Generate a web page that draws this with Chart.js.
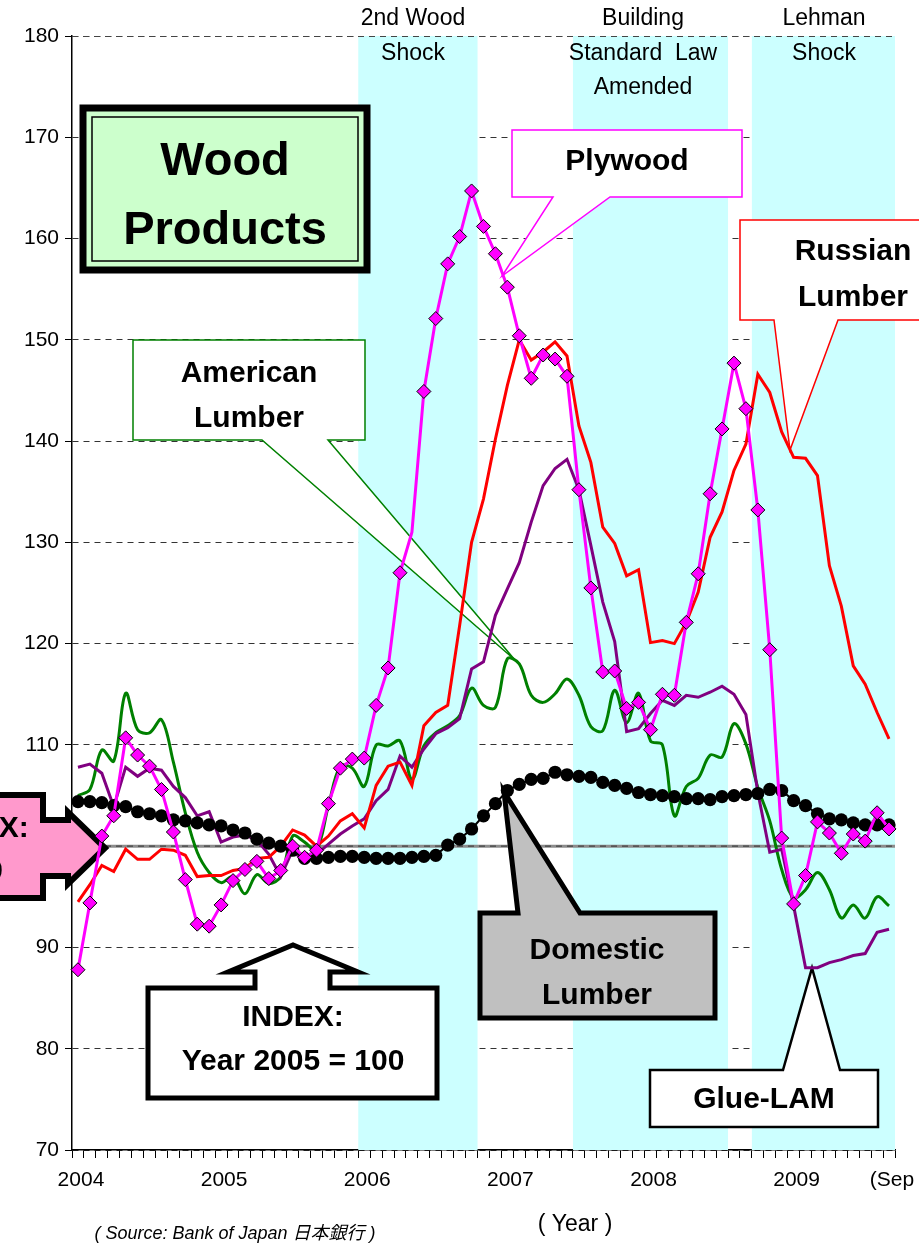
<!DOCTYPE html>
<html><head><meta charset="utf-8">
<script src="https://cdn.jsdelivr.net/npm/chart.js@4.4.1/dist/chart.umd.min.js"></script>
<style>html,body{margin:0;padding:0;background:#fff;overflow:hidden}canvas{display:block}</style>
</head><body>
<canvas id="c" width="919" height="1243"></canvas>
<script>
// ---- categories: monthly, Jan 2004 .. Sep 2009 ----
const months = [];
for (let yy = 2004; yy <= 2009; yy++) for (let mm = 1; mm <= 12; mm++) {
  if (yy === 2009 && mm > 9) break;
  months.push(yy + '-' + String(mm).padStart(2, '0'));
}
// ---- tick labels ----
const tickMonths = ['2004-01','2005-01','2006-01','2007-01','2008-01','2009-01','2009-09'];
const tickLabels = ['2004','2005','2006','2007','2008','2009','(Sep'];
const yTicks = [70,80,90,100,110,120,130,140,150,160,170,180];

// ---- series (index, 2005 = 100) ----
const plywood = [87.8, 94.4, 101.0, 103.0, 110.7, 109.0, 107.9, 105.6, 101.4, 96.7, 92.3, 92.1,
 94.2, 96.6, 97.7, 98.5, 96.8, 97.6, 100.0, 98.9, 99.6, 104.2, 107.7, 108.6,
 108.7, 113.9, 117.6, 127.0, 131.0, 144.9, 152.1, 157.5, 160.2, 164.7, 161.2, 158.5,
 155.2, 150.4, 146.2, 148.5, 148.1, 146.4, 135.2, 125.5, 117.2, 117.3, 113.6, 114.2,
 111.5, 115.0, 114.9, 122.1, 126.9, 134.8, 141.2, 147.7, 143.2, 133.2, 119.4, 100.8,
 94.3, 97.1, 102.4, 101.3, 99.3, 101.2, 100.5, 103.3, 101.7];
const plywoodNoMarker = ['2006-05'];
const domestic = [104.4, 104.4, 104.3, 104.0, 103.9, 103.4, 103.2, 103.0, 102.6, 102.5, 102.3, 102.1,
 102.0, 101.6, 101.3, 100.7, 100.3, 100.0, 99.6, 98.8, 98.8, 98.9, 99.0, 99.0,
 98.9, 98.8, 98.8, 98.8, 98.9, 99.0, 99.1, 100.1, 100.7, 101.7, 103.0, 104.2,
 105.5, 106.1, 106.6, 106.7, 107.3, 107.05, 106.9, 106.8, 106.3, 106.0, 105.7, 105.3,
 105.1, 105.0, 104.9, 104.7, 104.7, 104.6, 104.9, 105.0, 105.1, 105.2, 105.6, 105.5,
 104.5, 104.0, 103.2, 102.7, 102.6, 102.3, 102.1, 102.1, 102.1];
const russian = [94.5, 96.2, 98.1, 97.5, 99.7, 98.7, 98.7, 99.7, 99.6, 99.1, 97.0, 97.1,
 97.1, 97.6, 97.8, 98.8, 98.9, 100.0, 101.6, 101.1, 100.0, 101.0, 102.5, 103.2,
 101.8, 106.0, 107.9, 108.3, 106.0, 111.9, 113.2, 113.9, 121.8, 130.0, 134.3, 140.2,
 145.5, 150.0, 148.0, 148.8, 149.8, 148.4, 141.5, 137.9, 131.5, 129.9, 126.7, 127.3,
 120.1, 120.3, 120.0, 122.1, 125.1, 130.5, 133.0, 137.1, 139.7, 146.6, 144.8, 140.9,
 138.4, 138.3, 136.6, 127.7, 123.7, 117.8, 116.0, 113.2, 110.6];
const glueLam = [107.8, 108.1, 107.2, 103.9, 107.8, 106.9, 107.7, 107.5, 105.9, 104.8, 103.0, 103.4,
 100.4, 100.9, 101.1, 100.6, 99.2, 97.0, 99.6, 98.4, 99.2, 100.2, 101.2, 102.0,
 102.7, 104.5, 105.6, 108.9, 107.8, 109.6, 111.1, 111.7, 112.6, 117.5, 118.2, 122.8,
 125.4, 128.0, 132.0, 135.6, 137.3, 138.2, 135.2, 129.7, 124.1, 120.2, 111.3, 111.6,
 113.1, 114.4, 113.9, 114.9, 114.7, 115.2, 115.8, 115.0, 113.0, 105.3, 99.4, 99.7,
 94.1, 88.0, 88.0, 88.5, 88.8, 89.2, 89.4, 91.5, 91.8];
const american = [105.0, 105.6, 109.5, 108.4, 115.1, 111.5, 111.2, 112.5, 108.3, 103.3, 99.4, 97.4,
 96.4, 97.0, 95.3, 97.2, 96.3, 97.0, 101.0, 100.4, 99.6, 104.0, 107.9, 107.7,
 105.9, 110.0, 109.9, 110.4, 106.6, 109.9, 111.2, 111.9, 112.9, 115.6, 113.9, 113.7,
 118.5, 118.0, 114.9, 114.2, 115.05, 116.5, 114.9, 111.8, 111.4, 115.4, 112.2, 115.1,
 110.4, 110.0, 103.0, 105.9, 106.7, 109.0, 108.8, 112.1, 110.1, 105.8, 102.5, 97.7,
 94.9, 95.7, 97.4, 95.7, 92.9, 94.2, 92.9, 95.0, 94.1];

// ---- shaded event periods ----
const bandStart = ['2006-01','2007-07','2008-10'];
const bandEnd   = ['2006-10','2008-07','2009-09'];
const bandText  = [['2nd Wood','Shock'],['Building','Standard  Law','Amended'],['Lehman','Shock']];

const FONT = '"Liberation Sans", Arial, sans-serif';

function poly(ctx, pts, fill, stroke, lw) {
  ctx.beginPath();
  ctx.moveTo(pts[0][0], pts[0][1]);
  for (let i = 1; i < pts.length; i++) ctx.lineTo(pts[i][0], pts[i][1]);
  ctx.closePath();
  if (fill) { ctx.fillStyle = fill; ctx.fill(); }
  if (stroke) { ctx.lineJoin = 'miter'; ctx.strokeStyle = stroke; ctx.lineWidth = lw; ctx.stroke(); }
}
function txt(ctx, s, x, y, size, bold, italic, align) {
  ctx.font = (italic ? 'italic ' : '') + (bold ? 'bold ' : '') + size + 'px ' + FONT + ', "Noto Sans CJK JP"';
  ctx.fillStyle = '#000';
  ctx.textAlign = align || 'center';
  ctx.textBaseline = 'middle';
  ctx.fillText(s, x, y);
}

const decor = {
  id: 'decor',
  beforeDatasetsDraw(chart) {
    const {ctx, chartArea: a, scales: {x, y}} = chart;
    const step = x.getPixelForValue(1) - x.getPixelForValue(0);
    ctx.save();
    // bands
    ctx.fillStyle = '#ccffff';
    bandStart.forEach((s, k) => {
      const x0 = x.getPixelForValue(months.indexOf(s)) - step / 2;
      const x1 = x.getPixelForValue(months.indexOf(bandEnd[k])) + step / 2;
      ctx.fillRect(x0, a.top, x1 - x0, a.bottom - a.top);
    });
    // top line (180) dashed
    ctx.strokeStyle = '#444'; ctx.lineWidth = 1; ctx.setLineDash([6, 5]);
    ctx.beginPath(); ctx.moveTo(a.left, y.getPixelForValue(180) + 0.5); ctx.lineTo(a.right, y.getPixelForValue(180) + 0.5); ctx.stroke();
    // base line 100
    const yb = y.getPixelForValue(100);
    ctx.setLineDash([]); ctx.strokeStyle = '#8c8c8c'; ctx.lineWidth = 3;
    ctx.beginPath(); ctx.moveTo(a.left, yb); ctx.lineTo(a.right, yb); ctx.stroke();
    ctx.setLineDash([6, 5]); ctx.strokeStyle = '#444'; ctx.lineWidth = 1.2;
    ctx.beginPath(); ctx.moveTo(a.left, yb); ctx.lineTo(a.right, yb); ctx.stroke();
    ctx.setLineDash([]);

    // band titles
    const tx = [413, 643, 824];
    bandText.forEach((lines, k) => {
      lines.forEach((l, j) => txt(ctx, l, tx[k], 19 + j * 34.5, 23, false));
    });

    // Wood Products box
    ctx.fillStyle = '#ccffcc'; ctx.fillRect(83, 108, 284, 162);
    ctx.strokeStyle = '#000'; ctx.lineWidth = 7; ctx.strokeRect(83, 108, 284, 162);
    ctx.lineWidth = 1.5; ctx.strokeRect(92, 117, 266, 144);
    txt(ctx, 'Wood', 225, 162, 47, true);
    txt(ctx, 'Products', 225, 231, 47, true);

    // Plywood callout
    poly(ctx, [[512,130],[742,130],[742,197],[610,197],[502,276],[553,197],[512,197]], '#fff', '#ff00ff', 1.5);
    txt(ctx, 'Plywood', 627, 162, 30, true);
    // Russian Lumber callout
    poly(ctx, [[740,220],[975,220],[975,320],[838,320],[790,450],[774,320],[740,320]], '#fff', '#ff0000', 1.5);
    txt(ctx, 'Russian', 853, 252, 30, true);
    txt(ctx, 'Lumber', 853, 298, 30, true);
    // American Lumber callout
    poly(ctx, [[133,340],[365,340],[365,440],[328,440],[515,660],[262,440],[133,440]], '#fff', '#008000', 1.5);
    txt(ctx, 'American', 249, 374, 30, true);
    txt(ctx, 'Lumber', 249, 419, 30, true);
    // Domestic Lumber callout
    poly(ctx, [[480,913],[518,913],[504,792],[580,913],[715,913],[715,1018],[480,1018]], '#c0c0c0', '#000', 5);
    txt(ctx, 'Domestic', 597, 951, 30, true);
    txt(ctx, 'Lumber', 597, 996, 30, true);
    // INDEX callout with up arrow
    poly(ctx, [[148,988],[255,988],[255,972],[228,972],[293,945],[358,972],[330,972],[330,988],[437,988],[437,1098],[148,1098]], '#fff', '#000', 5);
    txt(ctx, 'INDEX:', 293, 1018, 30, true);
    txt(ctx, 'Year 2005 = 100', 293, 1062, 30, true);
    // Glue-LAM callout
    poly(ctx, [[650,1070],[783,1070],[812,968],[840,1070],[878,1070],[878,1127],[650,1127]], '#fff', '#000', 2.5);
    txt(ctx, 'Glue-LAM', 764, 1100, 30, true);
    // left pink arrow (cut off)
    poly(ctx, [[-20,795],[43,795],[43,820],[68,820],[68,812],[105,848],[68,884],[68,876],[43,876],[43,898],[-20,898]], '#ff99cc', '#000', 6);
    txt(ctx, 'INDEX:', -22, 829, 30, true);
    txt(ctx, '100', -22, 872, 30, true);

    // axis titles / source
    txt(ctx, '( Year )', 575, 1225, 23, false);
    txt(ctx, '( Source: Bank of Japan 日本銀行 )', 235, 1234, 18, false, true);
    ctx.restore();
  }
};

const xLabelFor = (i) => {
  const k = tickMonths.indexOf(months[i]);
  return k >= 0 ? tickLabels[k] : '';
};

new Chart(document.getElementById('c'), {
  type: 'line',
  data: {
    labels: months,
    datasets: [
      { label: 'Plywood', data: plywood, borderColor: '#ff00ff', borderWidth: 3,
        pointStyle: 'rectRot',
        pointRadius: months.map(m => plywoodNoMarker.includes(m) ? 0 : 7),
        pointBackgroundColor: '#ff00ff', pointBorderColor: '#000', pointBorderWidth: 1, tension: 0 },
      { label: 'Domestic Lumber', data: domestic, borderColor: '#000', borderWidth: 2,
        pointRadius: 6.6, pointBackgroundColor: '#000', pointBorderWidth: 0, tension: 0 },
      { label: 'Russian Lumber', data: russian, borderColor: '#ff0000', borderWidth: 3, pointRadius: 0, tension: 0 },
      { label: 'Glue-LAM', data: glueLam, borderColor: '#800080', borderWidth: 3, pointRadius: 0, tension: 0 },
      { label: 'American Lumber', data: american, borderColor: '#008000', borderWidth: 3, pointRadius: 0, tension: 0.35 }
    ]
  },
  options: {
    responsive: false, devicePixelRatio: 1, animation: false, events: [],
    layout: { padding: { top: 36, right: 24, left: 0, bottom: 0 } },
    plugins: { legend: { display: false }, tooltip: { enabled: false } },
    scales: {
      x: {
        offset: true,
        grid: { display: true, drawOnChartArea: false, offset: true, tickLength: 8, color: '#000', lineWidth: 1 },
        border: { color: '#000', width: 1.5 },
        ticks: { autoSkip: false, maxRotation: 0, minRotation: 0, color: '#000', padding: 10, labelOffset: 3,
                 font: { family: FONT, size: 21 }, callback: (v, i) => xLabelFor(i) },
        afterFit: (s) => { s.height = 93; s.paddingLeft = 0; s.paddingRight = 0; }
      },
      y: {
        min: 70, max: 180,
        afterBuildTicks: (s) => { s.ticks = yTicks.map(v => ({ value: v })); },
        grid: { color: '#333', lineWidth: 1, tickLength: 7, tickColor: '#000' },
        border: { color: '#000', width: 1.5, dash: [6, 5] },
        ticks: { color: '#000', padding: 6, font: { family: FONT, size: 21 } },
        afterFit: (s) => { s.width = 72; s.paddingTop = 0; s.paddingBottom = 0; }
      }
    }
  },
  plugins: [decor]
});
</script>
</body></html>
